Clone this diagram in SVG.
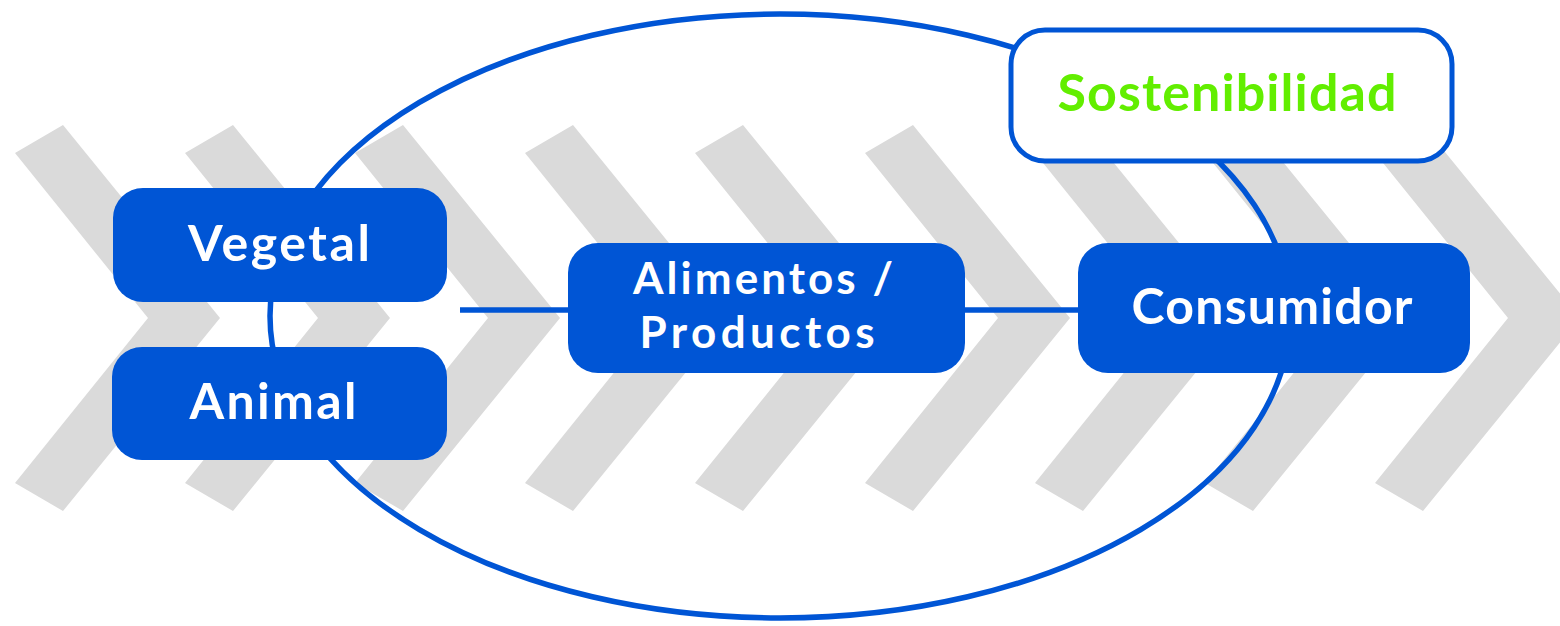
<svg xmlns="http://www.w3.org/2000/svg" width="1560" height="626" viewBox="0 0 1560 626">
  <style>
    .chev { fill: #dadada; }
    .box { fill: #0055d5; }
    .lbl { fill: #ffffff; font-family: Lato, "Liberation Sans", sans-serif; font-weight: 700; font-size: 50px; text-anchor: middle; }
    .sm { font-size: 44px; }
    .line { stroke: #0055d5; stroke-width: 5.5; fill: none; }
    .green { fill: #62ee00; font-family: Lato, "Liberation Sans", sans-serif; font-weight: 700; font-size: 52px; text-anchor: middle; }
  </style>
  <defs>
    <polygon id="chevron" points="0,153 48,125 205,318 48,511 0,483 133,318"/>
  </defs>
  <rect width="1560" height="626" fill="#ffffff"/>
  <g id="chevrons" class="chev">
    <use href="#chevron" x="15"/>
    <use href="#chevron" x="185"/>
    <use href="#chevron" x="355"/>
    <use href="#chevron" x="525"/>
    <use href="#chevron" x="695"/>
    <use href="#chevron" x="865"/>
    <use href="#chevron" x="1035"/>
    <use href="#chevron" x="1205"/>
    <use href="#chevron" x="1375"/>
  </g>
  <g id="connectors">
    <ellipse class="line" cx="780" cy="316" rx="510" ry="302"/>
    <line class="line" x1="460" y1="310" x2="570" y2="310"/>
    <line class="line" x1="963" y1="310" x2="1080" y2="310"/>
  </g>
  <g id="vegetal">
    <rect class="box" x="113" y="188" width="334" height="114" rx="30"/>
    <text class="lbl" x="279" y="261" textLength="182" lengthAdjust="spacing">Vegetal</text>
  </g>
  <g id="animal">
    <rect class="box" x="112" y="347" width="335" height="113" rx="30"/>
    <text class="lbl" x="273" y="419" textLength="167" lengthAdjust="spacing">Animal</text>
  </g>
  <g id="alimentos">
    <rect class="box" x="568" y="243" width="397" height="130" rx="30"/>
    <text class="lbl sm" x="763" y="294" textLength="260" lengthAdjust="spacing">Alimentos /</text>
    <text class="lbl sm" x="757" y="348" textLength="235" lengthAdjust="spacing">Productos</text>
  </g>
  <g id="consumidor">
    <rect class="box" x="1078" y="243" width="392" height="130" rx="30"/>
    <text class="lbl" x="1272" y="324" textLength="281" lengthAdjust="spacing">Consumidor</text>
  </g>
  <g id="sostenibilidad">
    <rect x="1011" y="30" width="441" height="131" rx="34" fill="#ffffff" stroke="#0055d5" stroke-width="5"/>
    <text class="green" x="1227" y="111" textLength="339" lengthAdjust="spacing">Sostenibilidad</text>
  </g>
</svg>
